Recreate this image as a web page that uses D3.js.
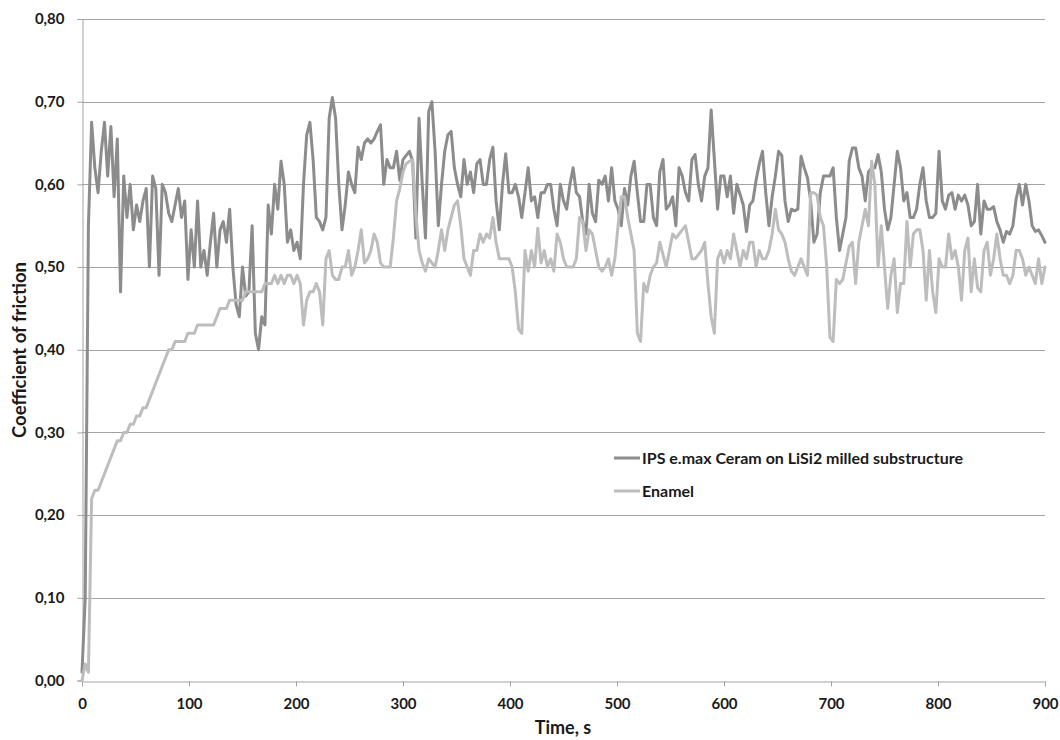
<!DOCTYPE html>
<html>
<head>
<meta charset="utf-8">
<script src="https://cdn.jsdelivr.net/npm/d3@7"></script>
<style>
  body { margin: 0; background: #fff; }
  text { font-family: Lato, "Open Sans", sans-serif; font-weight: bold; fill: #1a1a1a; }
</style>
</head>
<body>
<svg id="chart" width="1060" height="740"></svg>
<script>
// sampling step of the recorded series, seconds
var timeStep = 3;

var seriesNames = ["IPS e.max Ceram on LiSi2 milled substructure", "Enamel"];

var ipsValues = [
  0.01, 0.10, 0.55, 0.675, 0.62, 0.59, 0.64, 0.675, 0.61, 0.67,
  0.585, 0.655, 0.47, 0.61, 0.56, 0.60, 0.545, 0.575, 0.555, 0.58,
  0.595, 0.50, 0.61, 0.595, 0.49, 0.60, 0.59, 0.565, 0.555, 0.575,
  0.595, 0.56, 0.58, 0.485, 0.545, 0.50, 0.58, 0.50, 0.52, 0.49,
  0.53, 0.565, 0.50, 0.545, 0.555, 0.53, 0.57, 0.50, 0.455, 0.44,
  0.50, 0.465, 0.47, 0.55, 0.42, 0.40, 0.44, 0.43, 0.575, 0.54,
  0.60, 0.57, 0.628, 0.60, 0.53, 0.545, 0.52, 0.53, 0.51, 0.60,
  0.66, 0.675, 0.63, 0.56, 0.555, 0.545, 0.56, 0.68, 0.705, 0.68,
  0.60, 0.545, 0.575, 0.615, 0.60, 0.59, 0.645, 0.63, 0.65, 0.655,
  0.65, 0.655, 0.664, 0.672, 0.60, 0.63, 0.62, 0.62, 0.64, 0.605,
  0.63, 0.635, 0.64, 0.628, 0.535, 0.68, 0.60, 0.535, 0.688, 0.70,
  0.64, 0.55, 0.60, 0.64, 0.66, 0.664, 0.62, 0.60, 0.585, 0.63,
  0.60, 0.615, 0.59, 0.625, 0.63, 0.60, 0.60, 0.63, 0.645, 0.58,
  0.545, 0.60, 0.637, 0.59, 0.59, 0.60, 0.585, 0.56, 0.59, 0.62,
  0.58, 0.585, 0.56, 0.59, 0.59, 0.60, 0.60, 0.57, 0.55, 0.60,
  0.58, 0.57, 0.60, 0.62, 0.59, 0.585, 0.555, 0.54, 0.60, 0.565,
  0.555, 0.605, 0.60, 0.61, 0.58, 0.62, 0.58, 0.57, 0.55, 0.595,
  0.575, 0.61, 0.628, 0.59, 0.555, 0.555, 0.60, 0.60, 0.56, 0.55,
  0.615, 0.63, 0.57, 0.575, 0.585, 0.55, 0.62, 0.61, 0.59, 0.58,
  0.63, 0.636, 0.60, 0.58, 0.61, 0.62, 0.69, 0.63, 0.57, 0.61,
  0.61, 0.585, 0.61, 0.565, 0.60, 0.588, 0.575, 0.543, 0.575, 0.58,
  0.605, 0.625, 0.64, 0.59, 0.55, 0.585, 0.61, 0.64, 0.635, 0.58,
  0.555, 0.57, 0.568, 0.57, 0.634, 0.62, 0.608, 0.58, 0.53, 0.54,
  0.59, 0.61, 0.61, 0.61, 0.62, 0.56, 0.52, 0.54, 0.56, 0.628,
  0.644, 0.644, 0.62, 0.61, 0.58, 0.615, 0.62, 0.62, 0.636, 0.615,
  0.57, 0.545, 0.56, 0.60, 0.64, 0.62, 0.58, 0.59, 0.56, 0.56,
  0.57, 0.60, 0.62, 0.58, 0.56, 0.56, 0.565, 0.64, 0.58, 0.57,
  0.587, 0.59, 0.57, 0.587, 0.58, 0.587, 0.575, 0.55, 0.555, 0.60,
  0.54, 0.58, 0.57, 0.57, 0.573, 0.555, 0.545, 0.53, 0.543, 0.54,
  0.55, 0.582, 0.60, 0.575, 0.60, 0.58, 0.55, 0.543, 0.545, 0.538,
  0.53
];

var enamelValues = [
  0.00, 0.02, 0.01, 0.22, 0.23, 0.23, 0.24, 0.25, 0.26, 0.27,
  0.28, 0.29, 0.29, 0.30, 0.30, 0.31, 0.31, 0.32, 0.32, 0.33,
  0.33, 0.34, 0.35, 0.36, 0.37, 0.38, 0.39, 0.40, 0.40, 0.41,
  0.41, 0.41, 0.41, 0.42, 0.42, 0.42, 0.43, 0.43, 0.43, 0.43,
  0.43, 0.43, 0.44, 0.45, 0.45, 0.45, 0.46, 0.46, 0.46, 0.46,
  0.46, 0.47, 0.47, 0.47, 0.47, 0.47, 0.47, 0.48, 0.48, 0.48,
  0.49, 0.48, 0.49, 0.48, 0.49, 0.49, 0.48, 0.49, 0.48, 0.43,
  0.46, 0.47, 0.47, 0.48, 0.47, 0.43, 0.51, 0.52, 0.49, 0.485,
  0.485, 0.50, 0.50, 0.52, 0.49, 0.50, 0.52, 0.545, 0.505, 0.51,
  0.52, 0.54, 0.53, 0.505, 0.50, 0.50, 0.50, 0.535, 0.58, 0.595,
  0.615, 0.625, 0.628, 0.63, 0.565, 0.52, 0.505, 0.495, 0.51, 0.505,
  0.50, 0.52, 0.545, 0.52, 0.545, 0.56, 0.575, 0.58, 0.55, 0.51,
  0.50, 0.49, 0.52, 0.52, 0.54, 0.53, 0.54, 0.535, 0.56, 0.53,
  0.51, 0.51, 0.51, 0.51, 0.50, 0.47, 0.425, 0.42, 0.52, 0.495,
  0.52, 0.50, 0.547, 0.505, 0.52, 0.50, 0.51, 0.495, 0.54, 0.53,
  0.51, 0.50, 0.50, 0.50, 0.51, 0.56, 0.555, 0.52, 0.545, 0.54,
  0.52, 0.50, 0.495, 0.50, 0.51, 0.49, 0.51, 0.55, 0.585, 0.585,
  0.56, 0.54, 0.52, 0.42, 0.41, 0.48, 0.47, 0.49, 0.50, 0.505,
  0.53, 0.515, 0.50, 0.52, 0.54, 0.535, 0.54, 0.545, 0.55, 0.53,
  0.51, 0.51, 0.515, 0.52, 0.53, 0.48, 0.44, 0.42, 0.51, 0.52,
  0.505, 0.52, 0.51, 0.54, 0.52, 0.50, 0.52, 0.51, 0.53, 0.53,
  0.50, 0.52, 0.51, 0.51, 0.52, 0.54, 0.57, 0.545, 0.54, 0.53,
  0.51, 0.495, 0.49, 0.50, 0.51, 0.50, 0.49, 0.59, 0.59, 0.587,
  0.56, 0.55, 0.50, 0.415, 0.41, 0.485, 0.48, 0.485, 0.505, 0.525,
  0.53, 0.48, 0.53, 0.55, 0.57, 0.55, 0.628, 0.60, 0.50, 0.55,
  0.50, 0.45, 0.49, 0.51, 0.445, 0.48, 0.48, 0.555, 0.50, 0.54,
  0.545, 0.545, 0.52, 0.46, 0.52, 0.47, 0.445, 0.51, 0.50, 0.50,
  0.54, 0.51, 0.52, 0.50, 0.46, 0.52, 0.535, 0.47, 0.51, 0.475,
  0.47, 0.52, 0.53, 0.49, 0.51, 0.54, 0.51, 0.49, 0.49, 0.48,
  0.49, 0.52, 0.52, 0.51, 0.49, 0.50, 0.49, 0.48, 0.51, 0.48,
  0.50
];

var xTicks = [0, 100, 200, 300, 400, 500, 600, 700, 800, 900];
var yTicks = [0, 0.1, 0.2, 0.3, 0.4, 0.5, 0.6, 0.7, 0.8];

var seriesColors = ["#8c8c8c", "#bdbdbd"];

var svg = d3.select("#chart");
var margin = { left: 82, right: 15, top: 19, bottom: 59.5 };
var width = +svg.attr("width");
var height = +svg.attr("height");

var x = d3.scaleLinear()
          .domain([0, 900])
          .range([margin.left, width - margin.right]);

var y = d3.scaleLinear()
          .domain([0, 0.8])
          .range([height - margin.bottom, margin.top]);

var comma = d3.formatLocale({ decimal: ",", thousands: ".", grouping: [3], currency: ["", ""] });
var yFormat = comma.format(".2f");

// horizontal gridlines
svg.append("g")
    .selectAll("line")
    .data(yTicks.slice(1))
    .enter()
    .append("line")
      .attr("x1", x(0))
      .attr("x2", x(900))
      .attr("y1", d => Math.round(y(d)) + 0.5)
      .attr("y2", d => Math.round(y(d)) + 0.5)
      .attr("stroke", "#a3a3a3")
      .attr("stroke-width", 1);

var yAxis = svg.append("g")
    .attr("transform", "translate(" + (margin.left + 0.5) + ",0)")
    .call(d3.axisLeft(y).tickValues(yTicks).tickFormat(yFormat).tickSize(5).tickPadding(13));

var xAxis = svg.append("g")
    .attr("transform", "translate(0," + (Math.round(y(0)) + 0.5) + ")")
    .call(d3.axisBottom(x).tickValues(xTicks).tickFormat(d3.format("d")).tickSize(5).tickPadding(12));

[yAxis, xAxis].forEach(g => {
  g.select(".domain").attr("stroke", "#a3a3a3");
  g.selectAll(".tick line").attr("stroke", "#a3a3a3");
  g.selectAll(".tick text")
      .attr("font-size", "15px")
      .attr("font-family", "Lato, sans-serif")
      .attr("font-weight", "bold")
      .attr("fill", "#1a1a1a");
});

var line = d3.line()
             .x((d, i) => x(i * timeStep))
             .y(d => y(d));

[ipsValues, enamelValues].forEach((values, k) => {
  svg.append("path")
      .datum(values)
      .attr("d", line)
      .attr("fill", "none")
      .attr("stroke", seriesColors[k])
      .attr("stroke-width", 3)
      .attr("stroke-linejoin", "round")
      .attr("stroke-linecap", "round");
});

// legend
var legend = svg.append("g")
    .selectAll("g")
    .data(seriesNames)
    .enter()
    .append("g")
      .attr("transform", (d, i) => "translate(614," + (458 + i * 33) + ")");

legend.append("line")
    .attr("x1", 0)
    .attr("x2", 26)
    .attr("stroke", (d, i) => seriesColors[i])
    .attr("stroke-width", 3);

legend.append("text")
    .attr("x", 28)
    .attr("dy", "0.35em")
    .attr("font-size", "16px")
    .text(d => d);

// axis titles
svg.append("text")
    .attr("x", 563)
    .attr("y", 734)
    .attr("font-size", "18px")
    .style("text-anchor", "middle")
    .text("Time, s");

svg.append("text")
    .attr("transform", "translate(26,350) rotate(-90)")
    .attr("font-size", "18.5px")
    .style("text-anchor", "middle")
    .text("Coefficient of friction");
</script>
</body>
</html>
